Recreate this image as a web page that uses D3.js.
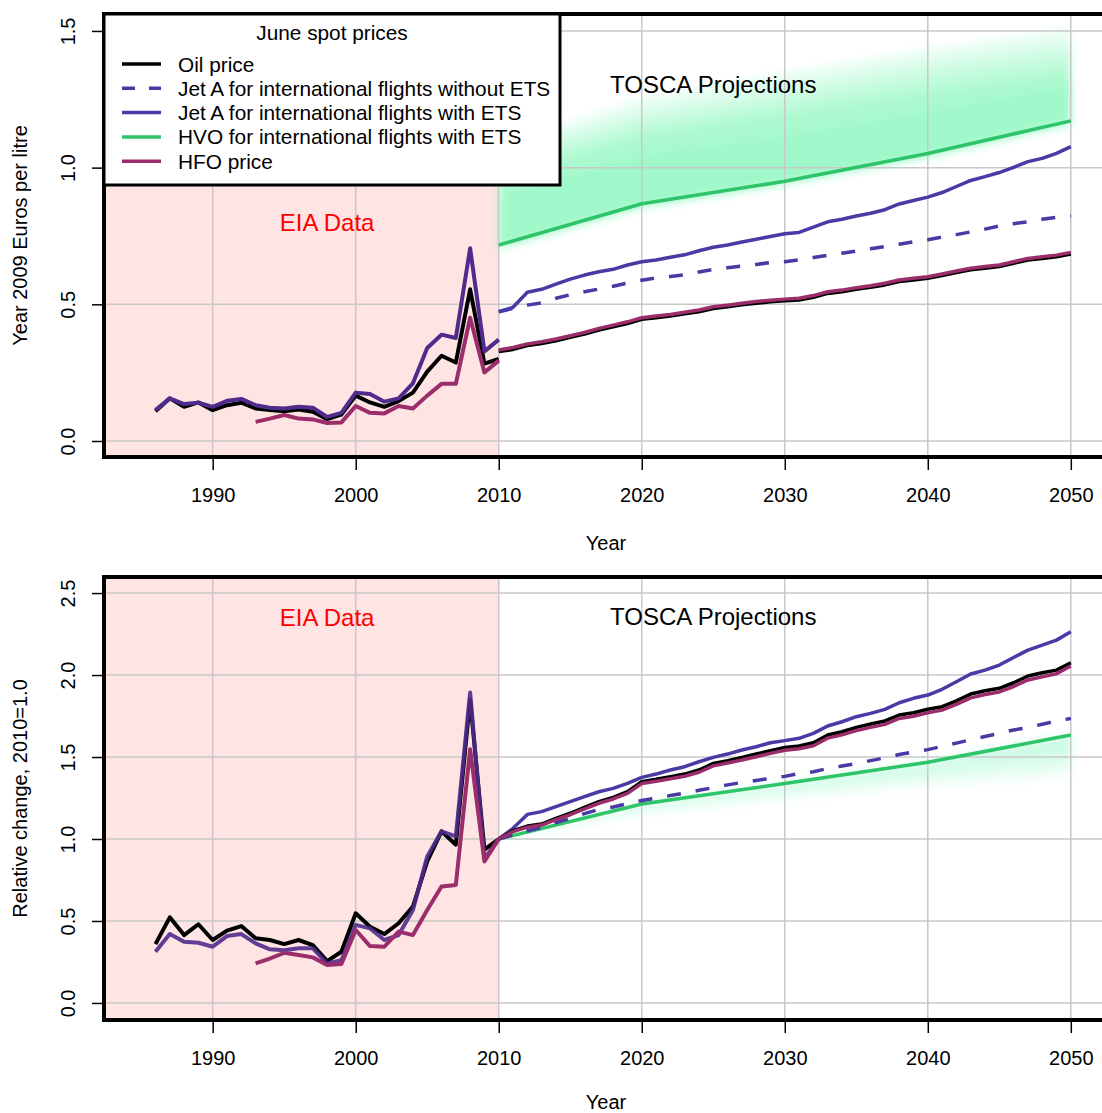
<!DOCTYPE html>
<html>
<head>
<meta charset="utf-8">
<script src="https://cdn.jsdelivr.net/npm/d3@7"></script>
<style>
body { margin: 0; background: #fff; }
text { font-family: "Liberation Sans", Arial, Helvetica, sans-serif; }
</style>
</head>
<body>
<div id="canvas"></div>
<script>
// ---- Data ----
var xTicks = [1990, 2000, 2010, 2020, 2030, 2040, 2050];
var yTicksTop = [0.0, 0.5, 1.0, 1.5];
var yTicksBottom = [0.0, 0.5, 1.0, 1.5, 2.0, 2.5];

var legendTitle = "June spot prices";
var legendLabels = ["Oil price", "Jet A for international flights without ETS",
    "Jet A for international flights with ETS", "HVO for international flights with ETS", "HFO price"];

// EIA history
var histYears = [1986, 1987, 1988, 1989, 1990, 1991, 1992, 1993, 1994, 1995, 1996, 1997, 1998,
    1999, 2000, 2001, 2002, 2003, 2004, 2005, 2006, 2007, 2008, 2009, 2010];
var hfoYears = [1993, 1994, 1995, 1996, 1997, 1998, 1999, 2000, 2001, 2002, 2003, 2004, 2005,
    2006, 2007, 2008, 2009, 2010];

var oilHist = [0.109, 0.156, 0.125, 0.141, 0.113, 0.131, 0.140, 0.119, 0.113, 0.109, 0.115, 0.107, 0.080,
    0.097, 0.166, 0.141, 0.125, 0.146, 0.177, 0.254, 0.312, 0.287, 0.555, 0.283, 0.300];
var jetHist = [0.113, 0.156, 0.135, 0.140, 0.125, 0.147, 0.154, 0.131, 0.122, 0.119, 0.125, 0.122, 0.088,
    0.103, 0.177, 0.172, 0.144, 0.156, 0.211, 0.340, 0.389, 0.377, 0.705, 0.328, 0.371];
var hfoHist = [0.070, 0.082, 0.095, 0.082, 0.079, 0.066, 0.068, 0.128, 0.103, 0.101, 0.128, 0.119, 0.166,
    0.209, 0.209, 0.451, 0.251, 0.294];

var oilHistRel = [0.359, 0.522, 0.414, 0.480, 0.384, 0.441, 0.469, 0.394, 0.384, 0.359, 0.384, 0.353, 0.255,
    0.312, 0.547, 0.465, 0.420, 0.486, 0.588, 0.863, 1.047, 0.965, 1.850, 0.935, 1.000];
var jetHistRel = [0.312, 0.420, 0.373, 0.367, 0.343, 0.408, 0.420, 0.363, 0.327, 0.322, 0.333, 0.333, 0.241,
    0.261, 0.476, 0.455, 0.384, 0.414, 0.567, 0.894, 1.047, 1.016, 1.894, 0.880, 1.000];
var hfoHistRel = [0.241, 0.271, 0.306, 0.292, 0.278, 0.231, 0.237, 0.445, 0.347, 0.343, 0.435, 0.414, 0.567,
    0.710, 0.720, 1.547, 0.863, 1.000];

// TOSCA projections
var projYears = [2010, 2011, 2012, 2013, 2014, 2015, 2016, 2017, 2018, 2019, 2020,
    2021, 2022, 2023, 2024, 2025, 2026, 2027, 2028, 2029, 2030,
    2031, 2032, 2033, 2034, 2035, 2036, 2037, 2038, 2039, 2040,
    2041, 2042, 2043, 2044, 2045, 2046, 2047, 2048, 2049, 2050];

var oilProj = [0.327, 0.335, 0.349, 0.357, 0.367, 0.379, 0.391, 0.406, 0.418, 0.430, 0.445,
    0.451, 0.457, 0.465, 0.473, 0.485, 0.491, 0.498, 0.504, 0.509, 0.513,
    0.516, 0.526, 0.540, 0.546, 0.555, 0.562, 0.571, 0.583, 0.589, 0.595,
    0.605, 0.616, 0.626, 0.632, 0.638, 0.650, 0.662, 0.668, 0.674, 0.684];
var hfoProj = [0.333, 0.342, 0.355, 0.363, 0.373, 0.385, 0.397, 0.412, 0.424, 0.436, 0.451,
    0.457, 0.463, 0.471, 0.479, 0.491, 0.497, 0.504, 0.510, 0.515, 0.519,
    0.522, 0.532, 0.546, 0.552, 0.561, 0.568, 0.577, 0.589, 0.595, 0.601,
    0.611, 0.622, 0.632, 0.638, 0.644, 0.656, 0.668, 0.674, 0.680, 0.690];
var jetEtsProj = [0.473, 0.489, 0.544, 0.555, 0.574, 0.592, 0.607, 0.619, 0.628, 0.644, 0.656,
    0.662, 0.672, 0.681, 0.696, 0.709, 0.717, 0.728, 0.738, 0.748, 0.758,
    0.763, 0.782, 0.802, 0.811, 0.823, 0.833, 0.846, 0.867, 0.880, 0.892,
    0.909, 0.931, 0.953, 0.967, 0.982, 1.001, 1.022, 1.034, 1.052, 1.077];
var jetNoEtsProj = [0.473, 0.485, 0.497, 0.505, 0.522, 0.535, 0.546, 0.556, 0.566, 0.578, 0.588,
    0.597, 0.602, 0.608, 0.618, 0.628, 0.634, 0.640, 0.646, 0.653, 0.656,
    0.663, 0.671, 0.679, 0.687, 0.695, 0.703, 0.711, 0.720, 0.729, 0.736,
    0.746, 0.755, 0.765, 0.775, 0.787, 0.795, 0.802, 0.811, 0.818, 0.823];

var oilProjRel = [1.000, 1.051, 1.079, 1.091, 1.126, 1.157, 1.193, 1.228, 1.254, 1.289, 1.350,
    1.364, 1.380, 1.396, 1.421, 1.461, 1.478, 1.498, 1.518, 1.539, 1.558,
    1.567, 1.587, 1.634, 1.654, 1.681, 1.701, 1.720, 1.756, 1.770, 1.791,
    1.807, 1.843, 1.884, 1.904, 1.919, 1.953, 1.994, 2.014, 2.030, 2.075];
var hfoProjRel = [1.000, 1.045, 1.072, 1.085, 1.118, 1.148, 1.183, 1.218, 1.244, 1.278, 1.338,
    1.352, 1.367, 1.383, 1.407, 1.446, 1.463, 1.482, 1.502, 1.522, 1.541,
    1.550, 1.569, 1.615, 1.635, 1.661, 1.681, 1.699, 1.735, 1.749, 1.770,
    1.786, 1.821, 1.861, 1.881, 1.897, 1.930, 1.970, 1.990, 2.008, 2.055];
var jetEtsProjRel = [1.000, 1.065, 1.150, 1.167, 1.197, 1.228, 1.258, 1.288, 1.309, 1.339, 1.376,
    1.396, 1.421, 1.441, 1.471, 1.498, 1.518, 1.543, 1.563, 1.587, 1.600,
    1.614, 1.644, 1.689, 1.715, 1.746, 1.766, 1.791, 1.831, 1.858, 1.878,
    1.913, 1.959, 2.006, 2.030, 2.061, 2.107, 2.152, 2.183, 2.213, 2.264];
var jetNoEtsProjRel = [1.000, 1.025, 1.050, 1.070, 1.100, 1.125, 1.155, 1.180, 1.195, 1.215, 1.235,
    1.250, 1.265, 1.280, 1.297, 1.313, 1.330, 1.345, 1.357, 1.370, 1.382,
    1.400, 1.410, 1.430, 1.445, 1.460, 1.478, 1.495, 1.515, 1.530, 1.545,
    1.565, 1.585, 1.605, 1.625, 1.645, 1.665, 1.680, 1.700, 1.720, 1.735];

// HVO line and its spread of simulated runs (read at decades)
var hvoYears = [2010, 2020, 2030, 2040, 2050];
var hvoProj = [0.717, 0.868, 0.950, 1.052, 1.171];
var hvoProjRel = [1.000, 1.213, 1.338, 1.468, 1.634];

var hvoSpreadLow = [0.705, 0.855, 0.940, 1.040, 1.160];
var hvoSpreadHigh1 = [1.08, 1.25, 1.345, 1.43, 1.505];
var hvoSpreadHigh2 = [1.04, 1.20, 1.29, 1.38, 1.45];
var hvoSpreadHigh3 = [1.00, 1.16, 1.245, 1.33, 1.40];
var hvoSpreadHigh4 = [0.97, 1.12, 1.20, 1.28, 1.35];
var hvoSpreadHigh5 = [0.90, 1.05, 1.12, 1.21, 1.30];

var hvoRelSpreadLow1 = [1.00, 1.15, 1.24, 1.32, 1.38];
var hvoRelSpreadLow2 = [1.00, 1.17, 1.27, 1.36, 1.43];
var hvoRelSpreadLow3 = [1.00, 1.19, 1.30, 1.40, 1.49];
var hvoRelSpreadLow4 = [1.00, 1.20, 1.32, 1.44, 1.56];

// ---- Colours ----
var cOil = "#000000";
var cJet = "#4a3aa6";
var cJetHist = "#4f2b8c";
var cHvo = "#2ec46a";
var cHfo = "#9b2d6b";
var cBand = "#46f295";

// ---- Canvas ----
var width = 1102, height = 1113;
var plotLeft = 104, plotRight = 1108;

var svg = d3.select("#canvas")
    .append("svg")
        .attr("width", width)
        .attr("height", height);

svg.append("defs")
    .append("filter")
        .attr("id", "soft")
        .attr("x", "-5%").attr("y", "-10%").attr("width", "110%").attr("height", "120%")
    .append("feGaussianBlur")
        .attr("stdDeviation", 4);

var x = d3.scaleLinear()
    .domain([1982.4, 2052.6])
    .range([plotLeft, plotRight]);

var yTop = d3.scaleLinear()
    .domain([-0.0585, 1.562])
    .range([457, 14]);

var yBottom = d3.scaleLinear()
    .domain([-0.104, 2.598])
    .range([1020, 577]);

function zip(years, values) {
    return years.map((d, i) => [d, values[i]]);
}

function drawPanel(y, yTicks, yTitle, bands, series, eiaY, toscaY) {
    var top = y.range()[1], bottom = y.range()[0];
    var g = svg.append("g");

    // EIA data shading
    g.append("rect")
        .attr("x", plotLeft)
        .attr("y", top)
        .attr("width", x(2010) - plotLeft)
        .attr("height", bottom - top)
        .attr("fill", "#ffe4e4");

    // spread of HVO runs
    var bandG = g.append("g").attr("filter", "url(#soft)");
    bands.forEach(function(b) {
        var area = d3.area()
            .x((d, i) => x(hvoYears[i]))
            .y0((d, i) => y(b.low[i]))
            .y1((d, i) => y(b.high[i]));
        bandG.append("path")
            .datum(hvoYears)
            .attr("d", area)
            .attr("fill", cBand)
            .attr("fill-opacity", b.opacity);
    });

    // grid
    g.append("g").selectAll("line")
        .data(xTicks)
        .join("line")
            .attr("x1", d => x(d)).attr("x2", d => x(d))
            .attr("y1", top).attr("y2", bottom)
            .attr("stroke", "#c8c8c8")
            .attr("stroke-width", 1.5);
    g.append("g").selectAll("line")
        .data(yTicks)
        .join("line")
            .attr("x1", plotLeft).attr("x2", plotRight)
            .attr("y1", d => y(d)).attr("y2", d => y(d))
            .attr("stroke", "#c8c8c8")
            .attr("stroke-width", 1.5);

    // lines
    var line = d3.line()
        .x(d => x(d[0]))
        .y(d => y(d[1]));
    series.forEach(function(s) {
        g.append("path")
            .datum(zip(s.years, s.values))
            .attr("d", line)
            .attr("fill", "none")
            .attr("stroke", s.color)
            .attr("stroke-width", s.width || 3.5)
            .attr("stroke-opacity", s.opacity || 1)
            .attr("stroke-linejoin", "round")
            .attr("stroke-dasharray", s.dash || null);
    });

    // annotations
    g.append("text")
        .attr("x", x(1998))
        .attr("y", eiaY)
        .attr("text-anchor", "middle")
        .attr("font-size", 24)
        .attr("fill", "#ff0000")
        .text("EIA Data");
    g.append("text")
        .attr("x", x(2025))
        .attr("y", toscaY)
        .attr("text-anchor", "middle")
        .attr("font-size", 24)
        .attr("fill", "#000")
        .text("TOSCA Projections");

    // axes
    var xAxis = g.append("g")
        .attr("transform", "translate(0," + bottom + ")")
        .call(d3.axisBottom(x).tickValues(xTicks).tickSize(13).tickPadding(18).tickFormat(d3.format("d")));
    var yAxis = g.append("g")
        .attr("transform", "translate(" + plotLeft + ",0)")
        .call(d3.axisLeft(y).tickValues(yTicks).tickSize(12).tickFormat(d3.format(".1f")));
    [xAxis, yAxis].forEach(function(a) {
        a.select(".domain").remove();
        a.selectAll(".tick line").attr("stroke", "#000").attr("stroke-width", 1.5);
        a.selectAll("text").attr("font-size", 20).attr("fill", "#000")
            .attr("font-family", "'Liberation Sans', Arial, sans-serif");
    });
    // R-style vertical tick labels
    yAxis.selectAll(".tick text")
        .attr("transform", "rotate(-90)")
        .attr("x", 0)
        .attr("y", -29)
        .attr("dy", null)
        .attr("text-anchor", "middle");

    // x title; the lower one sits against the page edge, so keep it inside
    g.append("text")
        .attr("x", (plotLeft + plotRight) / 2)
        .attr("y", Math.min(bottom + 93, height - 4))
        .attr("text-anchor", "middle")
        .attr("font-size", 20)
        .text("Year");
    g.append("text")
        .attr("transform", "translate(27," + (top + bottom) / 2 + ") rotate(-90)")
        .attr("text-anchor", "middle")
        .attr("font-size", 20)
        .text(yTitle);

    // plot frame
    g.append("rect")
        .attr("x", plotLeft)
        .attr("y", top)
        .attr("width", plotRight - plotLeft)
        .attr("height", bottom - top)
        .attr("fill", "none")
        .attr("stroke", "#000")
        .attr("stroke-width", 4);
}

// Top panel: prices
drawPanel(yTop, yTicksTop, "Year 2009 Euros per litre",
    [
        {low: hvoSpreadLow, high: hvoSpreadHigh1, opacity: 0.14},
        {low: hvoSpreadLow, high: hvoSpreadHigh2, opacity: 0.14},
        {low: hvoSpreadLow, high: hvoSpreadHigh3, opacity: 0.14},
        {low: hvoSpreadLow, high: hvoSpreadHigh4, opacity: 0.14},
        {low: hvoSpreadLow, high: hvoSpreadHigh5, opacity: 0.1}
    ],
    [
        {years: histYears, values: oilHist, color: cOil, width: 4},
        {years: histYears, values: jetHist, color: cJetHist, width: 4},
        {years: hfoYears, values: hfoHist, color: cHfo, width: 4},
        {years: hvoYears, values: hvoProj, color: cHvo},
        {years: projYears, values: jetNoEtsProj, color: cJet, dash: "14,15"},
        {years: projYears, values: jetEtsProj, color: cJet},
        {years: projYears, values: oilProj, color: cOil},
        {years: projYears, values: hfoProj, color: cHfo}
    ], 231, 93);

// Bottom panel: relative change
drawPanel(yBottom, yTicksBottom, "Relative change, 2010=1.0",
    [
        {low: hvoRelSpreadLow1, high: hvoProjRel, opacity: 0.08},
        {low: hvoRelSpreadLow2, high: hvoProjRel, opacity: 0.08},
        {low: hvoRelSpreadLow3, high: hvoProjRel, opacity: 0.08},
        {low: hvoRelSpreadLow4, high: hvoProjRel, opacity: 0.08}
    ],
    [
        {years: histYears, values: oilHistRel, color: cOil, width: 4},
        {years: histYears, values: jetHistRel, color: cJetHist, width: 4, opacity: 0.9},
        {years: hfoYears, values: hfoHistRel, color: cHfo, width: 4},
        {years: hvoYears, values: hvoProjRel, color: cHvo},
        {years: projYears, values: jetNoEtsProjRel, color: cJet, dash: "14,15"},
        {years: projYears, values: jetEtsProjRel, color: cJet},
        {years: projYears, values: oilProjRel, color: cOil},
        {years: projYears, values: hfoProjRel, color: cHfo}
    ], 626, 625);

// Legend (top panel)
var legend = svg.append("g");
legend.append("rect")
    .attr("x", 104)
    .attr("y", 14)
    .attr("width", 456)
    .attr("height", 171)
    .attr("fill", "#fff")
    .attr("stroke", "#000")
    .attr("stroke-width", 3);
legend.append("text")
    .attr("x", 332)
    .attr("y", 40)
    .attr("text-anchor", "middle")
    .attr("font-size", 20.8)
    .text(legendTitle);

var legendColors = [cOil, cJet, cJet, cHvo, cHfo];
var legendDash = [null, "13,14", null, null, null];
var rows = legend.selectAll(".row")
    .data(legendLabels)
    .join("g")
        .attr("class", "row")
        .attr("transform", (d, i) => "translate(0," + (64 + i * 24.3) + ")");
rows.append("line")
    .attr("x1", 122).attr("x2", 161)
    .attr("stroke", (d, i) => legendColors[i])
    .attr("stroke-width", 3.5)
    .attr("stroke-dasharray", (d, i) => legendDash[i]);
rows.append("text")
    .attr("x", 178)
    .attr("dy", "0.36em")
    .attr("font-size", 20.8)
    .text(d => d);
</script>
</body>
</html>
